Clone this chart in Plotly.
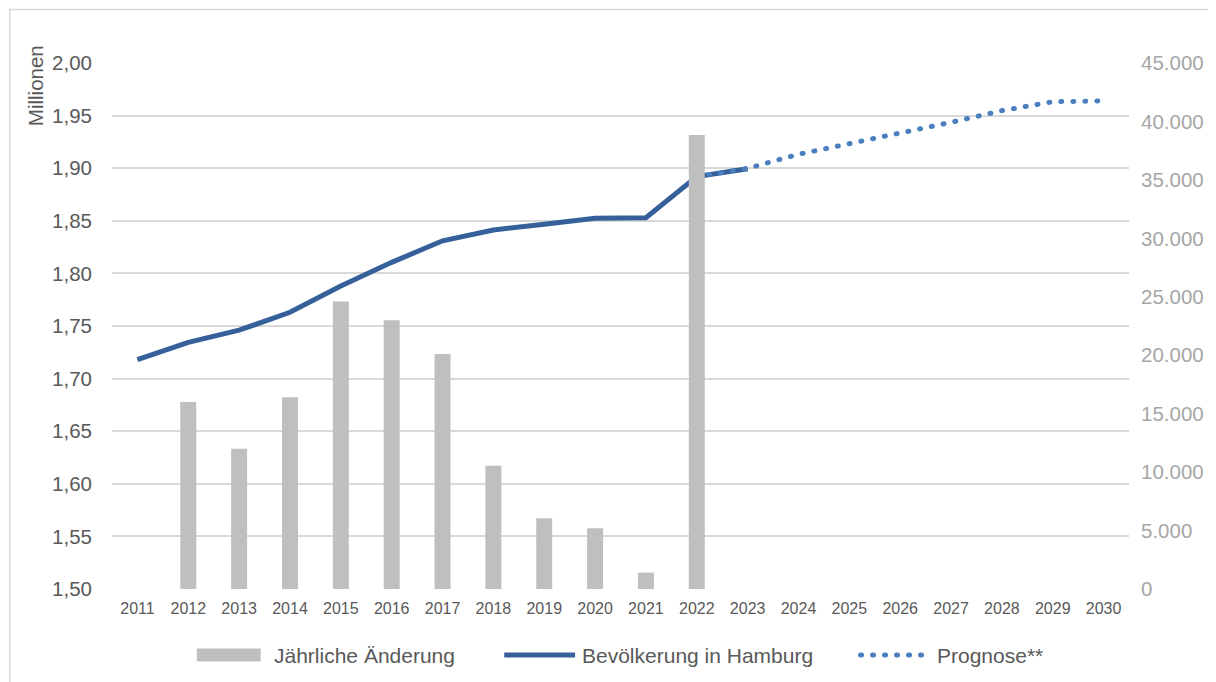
import plotly.graph_objects as go

years = [str(y) for y in range(2011, 2031)]

# Jährliche Änderung (right axis, persons)
change_years = ["2012", "2013", "2014", "2015", "2016", "2017", "2018", "2019", "2020", "2021", "2022"]
change_values = [16000, 12000, 16400, 24600, 23000, 20100, 10550, 6050, 5200, 1400, 38850]

# Bevölkerung in Hamburg (left axis, millions)
pop_years = ["2011", "2012", "2013", "2014", "2015", "2016", "2017", "2018", "2019", "2020", "2021", "2022", "2023"]
pop_values = [1.718, 1.7345, 1.746, 1.763, 1.788, 1.8105, 1.831, 1.8413, 1.8467, 1.8524, 1.853, 1.892, 1.8995]

# Prognose** (left axis, millions)
prog_years = ["2022", "2023", "2024", "2025", "2026", "2027", "2028", "2029", "2030"]
prog_values = [1.892, 1.8999, 1.9132, 1.9233, 1.9332, 1.9436, 1.9547, 1.9632, 1.9639]

left_ticks = [1.50, 1.55, 1.60, 1.65, 1.70, 1.75, 1.80, 1.85, 1.90, 1.95, 2.00]
right_ticks = [0, 5000, 10000, 15000, 20000, 25000, 30000, 35000, 40000, 45000]

legend_names = ["Jährliche Änderung", "Bevölkerung in Hamburg", "Prognose**"]

FONT = "Liberation Sans, Arial, sans-serif"
OFF = 8  # page body margin
W, H = 1216 - OFF, 682 - OFF
L, R, T, B = 112 - OFF, 85, 63 - OFF, 93
pw, ph = W - L - R, H - T - B

BAR_C = "#BFBFBF"
LINE_C = "#35609A"
PROG_C = "#4A7EBF"
TXT_C = "#595959"
DOT_DASH = "1px,11px"


def px(sx):
    return (sx - (L + OFF)) / pw


def py(sy):
    return ((T + OFF + ph) - sy) / ph


fig = go.Figure()
fig.add_trace(go.Bar(
    x=change_years, y=change_values, name=legend_names[0],
    marker=dict(color=BAR_C, line=dict(width=0)), yaxis="y2",
))
fig.add_trace(go.Scatter(
    x=pop_years, y=pop_values, name=legend_names[1], mode="lines",
    line=dict(color=LINE_C, width=5), yaxis="y",
))
fig.add_trace(go.Scatter(
    x=prog_years, y=prog_values, name=legend_names[2], mode="lines",
    line=dict(color=PROG_C, width=5, dash=DOT_DASH), yaxis="y",
))

legend_y = 655
shapes = [
    # outer chart border
    dict(type="rect", xref="paper", yref="paper", layer="below",
         x0=px(9.5), x1=px(1240), y0=py(720), y1=py(9.5),
         line=dict(color="#D9D9D9", width=1.5), fillcolor="rgba(0,0,0,0)"),
    # legend swatches
    dict(type="rect", xref="paper", yref="paper",
         x0=px(197), x1=px(261), y0=py(legend_y + 6.5), y1=py(legend_y - 6.5),
         line=dict(width=0), fillcolor=BAR_C),
    dict(type="line", xref="paper", yref="paper",
         x0=px(505), x1=px(576), y0=py(legend_y), y1=py(legend_y),
         line=dict(color=LINE_C, width=5)),
    dict(type="line", xref="paper", yref="paper",
         x0=px(862), x1=px(928), y0=py(legend_y), y1=py(legend_y),
         line=dict(color=PROG_C, width=5, dash=DOT_DASH)),
]

annotations = [
    dict(text="Millionen", textangle=-90, showarrow=False,
         xref="paper", yref="paper", x=px(35), y=py(86),
         xanchor="center", yanchor="middle",
         font=dict(size=20.5, color=TXT_C, family=FONT)),
]
for name, sx in zip(legend_names, [272, 581, 937]):
    annotations.append(dict(
        text=name, showarrow=False, xref="paper", yref="paper",
        x=px(sx), y=py(legend_y), xanchor="left", yanchor="middle",
        font=dict(size=21, color=TXT_C, family=FONT),
    ))

fig.update_layout(
    width=W, height=H,
    margin=dict(l=L, r=R, t=T, b=B),
    paper_bgcolor="white", plot_bgcolor="white",
    separators=",.",
    font=dict(family=FONT, color=TXT_C),
    bargap=0.686,
    showlegend=False,
    xaxis=dict(
        type="category", categoryorder="array", categoryarray=years,
        range=[-0.5, len(years) - 0.5],
        showgrid=False, showline=False, zeroline=False,
        tickfont=dict(size=16, color=TXT_C),
        ticks="", ticklabelstandoff=8,
    ),
    yaxis=dict(
        range=[1.5, 2.0], tickvals=left_ticks, tickformat=".2f",
        showgrid=True, gridcolor="#D9D9D9", gridwidth=1.5,
        zeroline=False, showline=False, ticks="",
        tickfont=dict(size=20.5, color=TXT_C),
        ticklabelstandoff=19,
    ),
    yaxis2=dict(
        range=[0, 45000], tickvals=right_ticks, tickformat=",d",
        overlaying="y", side="right", showgrid=False, zeroline=False,
        showline=False, ticks="",
        tickfont=dict(size=20.5, color="#A6A6A6"),
        ticklabelstandoff=11,
    ),
    shapes=shapes,
    annotations=annotations,
)

post = """
function roundDots(gd){
  var paths = gd.querySelectorAll('path');
  paths.forEach(function(p){
    var d = p.style.strokeDasharray || p.getAttribute('stroke-dasharray') || '';
    if (d.replace(/\\s/g,'').indexOf('1px,11px') === 0) {
      p.style.strokeLinecap = 'round';
    }
  });
}
var gd = document.getElementById('{plot_id}');
roundDots(gd);
gd.on('plotly_afterplot', function(){ roundDots(gd); });
"""

fig.write_html("out.html", post_script=post)
